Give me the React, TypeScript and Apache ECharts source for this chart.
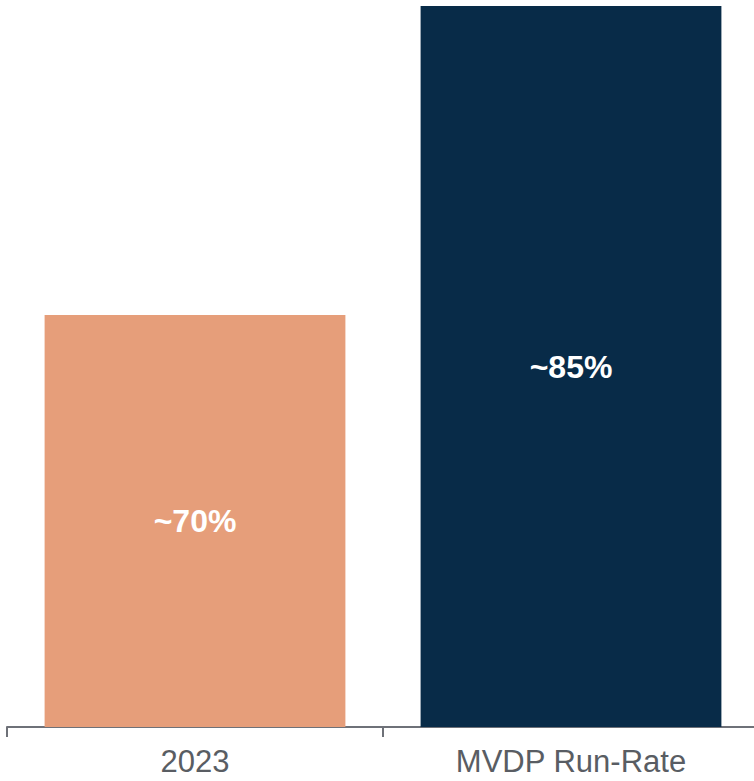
import React, { useEffect, useRef } from "react";
import * as echarts from "echarts";

const categories = ["2023", "MVDP Run-Rate"];
const values = [70, 85];
const valueLabels = ["~70%", "~85%"];
const barColors = ["#E69E7A", "#082B48"];

export default function App() {
  const ref = useRef<HTMLDivElement>(null);
  useEffect(() => {
    if (!ref.current) return;
    const chart = echarts.init(ref.current, null, { renderer: "svg" });
    chart.setOption({
      animation: false,
      backgroundColor: "#ffffff",
      grid: { left: 7, top: 6, width: 752, bottom: 54, containLabel: false, outerBoundsMode: "none" },
      xAxis: {
        type: "category",
        data: categories,
        boundaryGap: true,
        axisLine: { show: true, lineStyle: { color: "#6E7178", width: 2 } },
        axisTick: { show: true, length: 10, alignWithLabel: false, lineStyle: { color: "#6E7178", width: 2 } },
        axisLabel: {
          color: "#595D63",
          fontSize: 31,
          fontFamily: "Liberation Sans, Arial, sans-serif",
          margin: 19,
        },
      },
      yAxis: {
        type: "value",
        min: 50,
        max: 85,
        show: false,
        splitLine: { show: false },
      },
      series: [
        {
          type: "bar",
          barWidth: "80%",
          data: values.map((v, i) => ({
            value: v,
            itemStyle: { color: barColors[i] },
            label: {
              show: true,
              position: "inside",
              formatter: valueLabels[i],
              color: "#ffffff",
              fontSize: 32,
              fontWeight: "bold",
              fontFamily: "Liberation Sans, Arial, sans-serif",
            },
          })),
        },
      ],
    });
    return () => chart.dispose();
  }, []);
  return (
    <div
      ref={ref}
      style={{ position: "fixed", left: 0, top: 0, width: 754, height: 781 }}
    />
  );
}
